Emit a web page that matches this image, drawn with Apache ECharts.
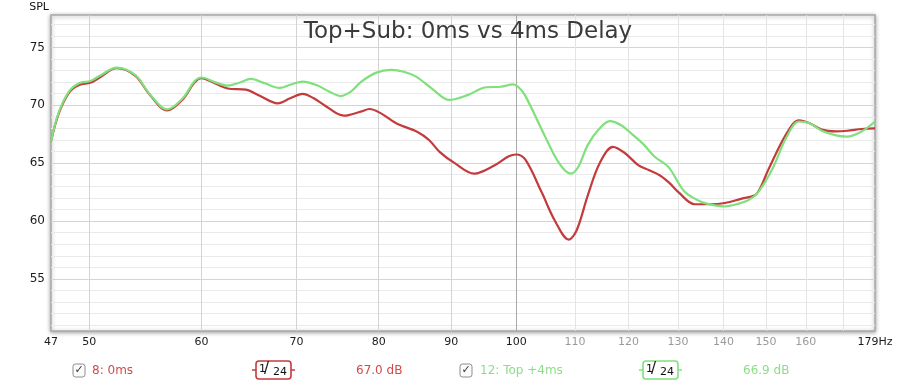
<!DOCTYPE html>
<html><head><meta charset="utf-8">
<script src="https://cdn.jsdelivr.net/npm/echarts@6/dist/echarts.min.js"></script>
<style>html,body{margin:0;padding:0;background:#fff}#c{width:900px;height:386px}</style>
</head><body><div id="c"></div>
<script>
// Series "8: 0ms" (red)
const freq0 = [47.0,47.6,48.4,49.2,50.1,50.8,52.3,53.9,55.1,56.75,58.2,59.3,60.0,61.3,62.6,64.5,66.0,67.9,69.3,70.7,72.0,73.2,75.6,77.7,78.8,80.3,82.3,85.2,86.8,88.3,90.5,93.4,96.5,98.8,100,101.5,104.2,106.5,108.9,110.3,112.3,114.5,117.0,119.2,121.9,124,126.2,128.2,130.1,133.6,137,140.3,144.2,147.3,148.8,150.5,155.1,158.2,161,164.2,168,171.1,175.2,179];
const spl0  = [66.9,69.3,71.1,71.75,71.95,72.35,73.2,72.55,71.0,69.55,70.5,71.95,72.35,71.9,71.45,71.35,70.8,70.17,70.6,70.98,70.6,70.03,69.1,69.45,69.68,69.3,68.44,67.7,67.0,65.98,65.0,64.1,64.8,65.6,65.75,65.3,62.5,60.0,58.4,59.2,62.2,65.0,66.41,65.9,64.83,64.4,63.96,63.3,62.5,61.45,61.45,61.56,61.94,62.23,63.0,64.4,67.57,68.7,68.45,67.9,67.75,67.8,67.95,68.0];
// Series "12: Top +4ms" (green)
const freq4 = [47.0,47.6,48.4,49.2,50.1,50.8,52.3,53.9,55.1,56.75,58.2,59.3,60.0,61.3,62.6,63.8,65.0,66.5,68.1,69.4,70.7,72.3,73.8,75.2,76.5,77.7,79.6,81.6,83.3,85.0,87.3,89.7,92.5,95.2,97.5,99.5,100.3,101.4,104.7,107.2,109.2,110.5,112.3,114.3,116.4,118.5,120.5,123,125.2,128.0,130.4,131.5,133.3,135.1,137.5,140.3,143,145.7,148.1,151.4,155.1,158.2,161,164.2,168,171.1,175.2,179];
const spl4  = [66.9,69.4,71.2,71.9,72.1,72.5,73.26,72.6,71.05,69.65,70.6,72.05,72.4,72.0,71.7,71.95,72.28,71.9,71.5,71.8,72.05,71.75,71.2,70.8,71.2,72.0,72.8,73.06,72.9,72.48,71.4,70.46,70.9,71.56,71.6,71.8,71.6,70.9,67.4,65.0,64.1,64.6,66.56,67.9,68.64,68.3,67.57,66.6,65.55,64.68,63.1,62.5,62.0,61.65,61.4,61.27,61.45,61.79,62.5,64.4,67.28,68.6,68.45,67.8,67.4,67.3,67.75,68.6];

const xLabelValues = [47,50,60,70,80,90,100,110,120,130,140,150,160,179];
const xGridValues = [50,60,70,80,90,100,110,120,130,140,150,160,170];
const yLabelValues = [55,60,65,70,75];
const yGridValues = [51,52,53,54,55,56,57,58,59,60,61,62,63,64,65,66,67,68,69,70,71,72,73,74,75,76,77];

const RED = '#c33b3d', GREEN = '#7fe07c';
const RED_T = '#d24a4a', GREEN_T = '#8bdf88';

const xGridColors = xGridValues.map(v => v === 100 ? '#a8a8a8' : (v > 100 ? '#e4e4e4' : '#d3d3d3'));
const yGridColors = yGridValues.map(v => v % 5 === 0 ? '#d4d4d4' : '#eaeaea');

const chart = echarts.init(document.getElementById('c'), null, {renderer: 'canvas'});
const FONT = 'DejaVu Sans';

function legendBox(x0, color) {
  return [
    {type: 'line', shape: {x1: x0 - 4, y1: 370, x2: x0, y2: 370}, style: {stroke: color, lineWidth: 1.5}},
    {type: 'line', shape: {x1: x0 + 35, y1: 370, x2: x0 + 39, y2: 370}, style: {stroke: color, lineWidth: 1.5}},
    {type: 'rect', shape: {x: x0, y: 361, width: 35, height: 18, r: 3}, style: {fill: '#fff', stroke: color, lineWidth: 1.6}},
    {type: 'text', x: x0 + 3, y: 364, style: {text: '1', font: '11px ' + FONT, fill: '#111'}},
    {type: 'text', x: x0 + 8, y: 362, style: {text: '/', font: '15px ' + FONT, fill: '#111'}},
    {type: 'text', x: x0 + 17, y: 367, style: {text: '24', font: '11px ' + FONT, fill: '#111'}}
  ];
}
function checkbox(x0) {
  return [
    {type: 'rect', shape: {x: x0, y: 364, width: 12, height: 13, r: 2.5}, style: {fill: '#fbfbfb', stroke: '#8c8c8c', lineWidth: 1}},
    {type: 'text', x: x0 + 6, y: 370.5, style: {text: '✓', font: '11px ' + FONT, fill: '#333', align: 'center', verticalAlign: 'middle'}}
  ];
}

const option = {
  backgroundColor: '#fff',
  animation: false,
  title: {
    text: 'Top+Sub: 0ms vs 4ms Delay',
    left: 463, top: 16, textAlign: 'center',
    textStyle: {fontFamily: FONT, fontSize: 23, fontWeight: 'normal', color: '#3a3a3a'}
  },
  grid: {
    left: 51, top: 15, right: 25, bottom: 55,
    show: true, backgroundColor: '#fff', borderColor: '#a8a8a8', borderWidth: 1.5,
    shadowBlur: 4, shadowColor: 'rgba(0,0,0,0.35)', shadowOffsetY: 1
  },
  xAxis: {
    type: 'log', logBase: 10, min: 47, max: 179,
    axisLine: {show: false},
    axisTick: {show: false, customValues: xGridValues},
    splitLine: {show: true, lineStyle: {color: xGridColors, width: 1}},
    minorSplitLine: {show: false},
    axisLabel: {
      customValues: xLabelValues, margin: 6,
      fontFamily: FONT, fontSize: 11, color: '#1a1a1a',
      formatter: v => {
        if (v === 179) return '179Hz';
        if (v > 100) return '{g|' + v + '}';
        return String(v);
      },
      rich: {g: {fontFamily: FONT, fontSize: 11, color: '#9a9a9a'}}
    }
  },
  yAxis: {
    type: 'value', min: 50.5, max: 77.8,
    name: 'SPL', nameLocation: 'end', nameGap: 0,
    nameTextStyle: {fontFamily: FONT, fontSize: 11, color: '#111', align: 'right', verticalAlign: 'bottom', padding: [0, 2, 2, 0]},
    axisLine: {show: false},
    axisTick: {show: false, customValues: yGridValues},
    splitLine: {show: true, lineStyle: {color: yGridColors, width: 1}},
    axisLabel: {customValues: yLabelValues, margin: 6, fontFamily: FONT, fontSize: 12, color: '#1a1a1a'}
  },
  series: [
    {name: '8: 0ms', type: 'line', data: freq0.map((f, i) => [f, spl0[i]]), showSymbol: false, smooth: 0.35,
     lineStyle: {color: RED, width: 2.2}, itemStyle: {color: RED}, z: 3},
    {name: '12: Top +4ms', type: 'line', data: freq4.map((f, i) => [f, spl4[i]]), showSymbol: false, smooth: 0.35,
     lineStyle: {color: GREEN, width: 2.2}, itemStyle: {color: GREEN}, z: 4}
  ],
  graphic: [
    ...checkbox(73),
    {type: 'text', x: 92, y: 370.5, style: {text: '8: 0ms', font: '12px ' + FONT, fill: RED_T, verticalAlign: 'middle'}},
    ...legendBox(256, RED),
    {type: 'text', x: 356, y: 370.5, style: {text: '67.0 dB', font: '12px ' + FONT, fill: RED_T, verticalAlign: 'middle'}},
    ...checkbox(460),
    {type: 'text', x: 480, y: 370.5, style: {text: '12: Top +4ms', font: '12px ' + FONT, fill: GREEN_T, verticalAlign: 'middle'}},
    ...legendBox(643, GREEN),
    {type: 'text', x: 743, y: 370.5, style: {text: '66.9 dB', font: '12px ' + FONT, fill: GREEN_T, verticalAlign: 'middle'}}
  ]
};
chart.setOption(option);
</script>
</body></html>
